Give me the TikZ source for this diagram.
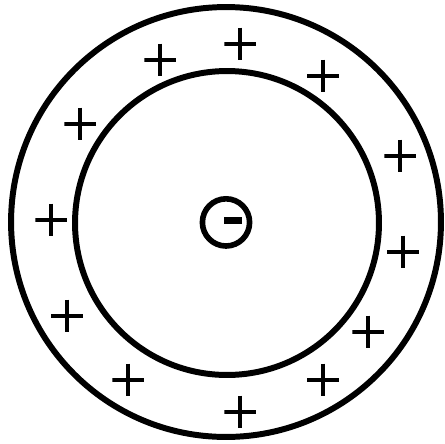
\documentclass[tikz,border=0pt]{standalone}
\usetikzlibrary{positioning}

\begin{document}
\begin{tikzpicture}[x=0.02cm, y=-0.02cm,
  ring/.style={circle, draw, line width=3.4pt, inner sep=0pt},
  charge/.style={rectangle, minimum size=0.64cm, inner sep=0pt,
    path picture={\draw[line width=2.3pt]
      (path picture bounding box.west) -- (path picture bounding box.east)
      (path picture bounding box.north) -- (path picture bounding box.south);}},
  neg/.style={rectangle, fill=black, minimum width=0.36cm, minimum height=0.15cm, inner sep=0pt}
]
\useasboundingbox (0,0) rectangle (445,443);
% shells
\node[ring, minimum size=8.6cm] (outer) at (226,222) {};
\node[ring, minimum size=6.08cm] (inner) at (227,223) {};
\node[ring, line width=3.2pt, minimum size=0.944cm] (core) at (226,222.4) {};
\node[neg] (minus) at (233,220.5) {};
% positive charges
\node[charge] (p1) at (240.3,43.7) {};
\node[charge] (p2) at (160.3,59.7) {};
\node[charge] (p3) at (323,75.7) {};
\node[charge] (p4) at (80.3,123.7) {};
\node[charge] (p5) at (400.3,155.7) {};
\node[charge] (p6) at (51.3,219.7) {};
\node[charge] (p7) at (403,251.7) {};
\node[charge] (p8) at (67,315.7) {};
\node[charge] (p9) at (368.3,331.7) {};
\node[charge] (p10) at (128.3,379.7) {};
\node[charge] (p11) at (323,379.7) {};
\node[charge] (p12) at (240.3,411.7) {};
\end{tikzpicture}
\end{document}
